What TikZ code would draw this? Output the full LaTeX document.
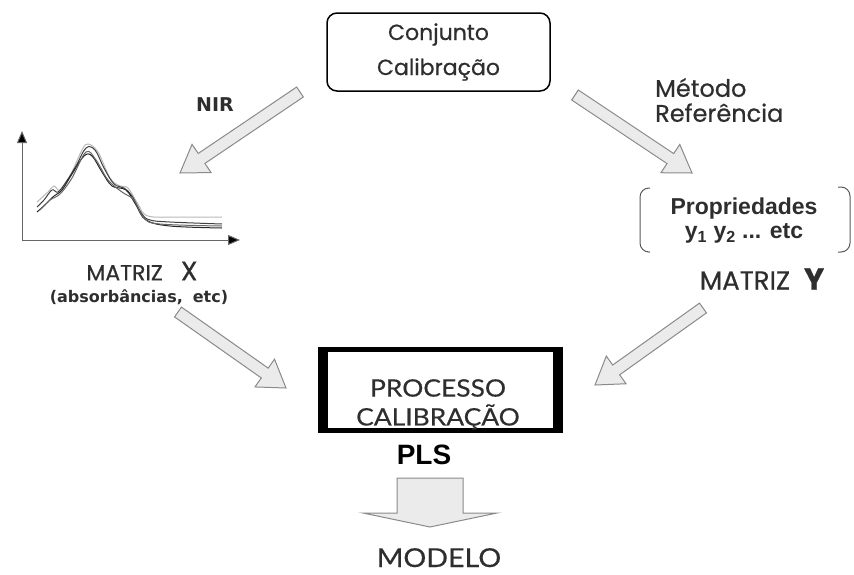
\documentclass[tikz,border=0pt]{standalone}
\usepackage{fontspec}
\usetikzlibrary{calc,arrows.meta}
\newfontfamily\geofont{Poppins}[FakeBold=0.6]
\newfontfamily\arifont{Liberation Sans}
\newfontfamily\latofont{Lato}[FakeStretch=1.1, FakeBold=0.4]
\newfontfamily\dvfont{DejaVu Sans}
\definecolor{txt}{HTML}{2E2E2E}
\definecolor{arrfill}{HTML}{EBEBEB}
\definecolor{arrline}{HTML}{8A8A8A}
\newcommand\fatarr[5]{%
  \coordinate (fa-h) at ($(#2)!#5!(#1)$);
  \draw[blockarrow] ($(#1)!#3!90:(#2)$) -- ($(fa-h)!#3!90:(#2)$) -- ($(fa-h)!#4!90:(#2)$)
    -- (#2) -- ($(fa-h)!#4!-90:(#2)$) -- ($(fa-h)!#3!-90:(#2)$) -- ($(#1)!#3!-90:(#2)$) -- cycle;}
\tikzset{
  blockarrow/.style={fill=arrfill, draw=arrline, line width=1pt, line join=miter},
  geo/.style={font=\geofont\fontsize{22}{25}\selectfont, text=txt, inner sep=0pt},
  ari/.style={font=\arifont\bfseries\fontsize{19}{23}\selectfont, text=txt, inner sep=0pt},
  lato/.style={font=\latofont\fontsize{24}{29}\selectfont, text=txt, inner sep=0pt},
  spec/.style={line width=1pt, smooth, tension=0.6},
  axisline/.style={draw=gray!80!black, line width=1pt, -{Triangle[length=12pt,width=10pt,fill=black]}},
}
\begin{document}
\begin{tikzpicture}[x=1pt,y=-1pt]
\useasboundingbox (0,0) rectangle (854,574);
% top box
\node[draw, line width=1.5pt, rounded corners=10pt, minimum width=223, minimum height=78,
      align=center, geo, font=\geofont\fontsize{22}{35}\selectfont] (conj) at (438.5,52) {Conjunto\\Calibração};
% arrows
\coordinate (nirT) at (300,92);  \coordinate (nirP) at (180,173);
\coordinate (refT) at (575,95);  \coordinate (refP) at (692,173);
\coordinate (llT) at (178,312);  \coordinate (llP) at (286,388);
\coordinate (lrT) at (703,308);  \coordinate (lrP) at (595,385);
\coordinate (dnT) at (430,478);  \coordinate (dnP) at (430,527);
\fatarr{nirT}{nirP}{6pt}{17pt}{26pt}
\fatarr{refT}{refP}{6pt}{17pt}{26pt}
\fatarr{llT}{llP}{6pt}{17pt}{26pt}
\fatarr{lrT}{lrP}{6pt}{17pt}{26pt}
\fatarr{dnT}{dnP}{33pt}{67pt}{14pt}
% labels
\node[font=\dvfont\bfseries\fontsize{19}{20}\selectfont, text=txt, inner sep=0pt] (nir) at (215,105) {NIR};
\node[geo, anchor=west, align=left, font=\geofont\fontsize{24}{25}\selectfont] (metodo) at (655,100) {Método\\Referência};
% graph
\coordinate (o) at (22,240);
\coordinate (ytop) at (22,131);
\coordinate (xend) at (240,240);
\draw[axisline] (o) -- (ytop);
\draw[axisline] (o) -- (xend);
\draw[spec, draw=gray!55] plot coordinates {(37,202) (48,192) (54,186) (60,190) (70,176) (82,150) (88,144) (98,152) (110,178) (120,186) (128,188) (138,204) (148,216) (180,217) (222,217)};
\draw[spec, draw=black!75] plot coordinates {(37,207) (44,200) (52,190) (58,192) (66,182) (76,166) (86,148) (95,150) (104,168) (114,184) (124,188) (132,196) (142,214) (150,220) (170,222) (222,224)};
\draw[spec, draw=black!85] plot coordinates {(37,212) (46,204) (54,196) (62,190) (72,174) (84,156) (92,156) (102,172) (112,186) (126,190) (136,205) (146,220) (170,226) (222,228)};
\draw[spec, draw=black!60] plot coordinates {(40,210) (50,200) (60,194) (72,178) (86,152) (96,160) (108,180) (122,192) (134,200) (144,218) (160,224) (222,226)};
\node[geo, font=\geofont\fontsize{22}{24}\selectfont] (mx) at (142,271) {MATRIZ\hspace{18pt}{\fontsize{27}{27}\selectfont X}};
\node[font=\dvfont\bfseries\fontsize{16}{16}\selectfont, text=txt, inner sep=0pt] (absorb) at (139,297) {(absorbâncias,\hspace{10pt}etc)};
% properties
\draw[line width=1pt, draw=gray!70!black, rounded corners=9pt] (650,188) -- (640,188) -- (640,252) -- (650,252);
\draw[line width=1pt, draw=gray!70!black, rounded corners=9pt] (838,187) -- (850,187) -- (850,252) -- (838,252);
\node[ari, align=center, font=\arifont\bfseries\fontsize{23}{24}\selectfont] (prop) at (744,221) {Propriedades\\y\textsubscript{1} y\textsubscript{2} ... etc};
\node[geo, font=\geofont\fontsize{26}{26}\selectfont] (my) at (762,279) {MATRIZ\hspace{14pt}{\fontsize{30}{30}\selectfont\bfseries Y}};
% process box
\node[draw, line width=5pt, minimum width=240, minimum height=81, inner sep=0pt] (pbox) at (440.5,390) {};
\fill (pbox.north west) rectangle ([xshift=10pt]pbox.south west);
\fill ([xshift=-10pt]pbox.north east) rectangle (pbox.south east);
\node[lato] (proc) at (438,388) {PROCESSO};
\node[lato] (calib) at (438,417) {CALIBRAÇÃO};
\node[font=\arifont\bfseries\fontsize{28}{30}\selectfont, inner sep=0pt] (pls) at (424,455) {PLS};
\node[lato, anchor=base, font=\latofont\fontsize{26}{28}\selectfont] (modelo) at (439,567) {MODELO};
\end{tikzpicture}
\end{document}
